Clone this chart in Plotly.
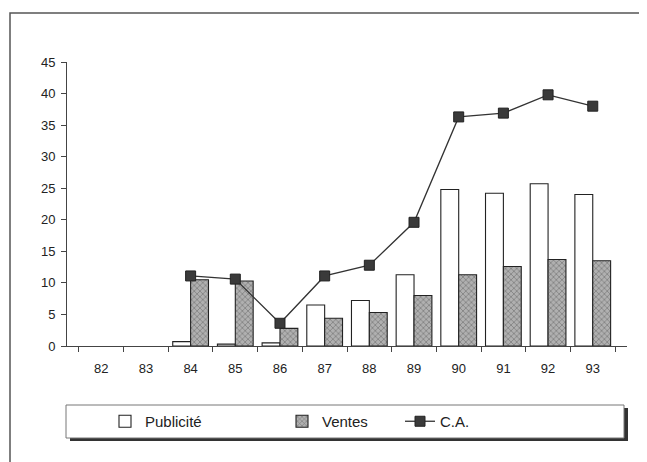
import plotly.graph_objects as go

annees = ['82', '83', '84', '85', '86', '87', '88', '89', '90', '91', '92', '93']
publicite = [None, None, 0.7, 0.3, 0.5, 6.5, 7.2, 11.3, 24.8, 24.2, 25.7, 24.0]
ventes = [None, None, 10.5, 10.3, 2.8, 4.4, 5.3, 8.0, 11.3, 12.6, 13.7, 13.5]
ca = [None, None, 11.1, 10.6, 3.6, 11.1, 12.8, 19.6, 36.3, 36.9, 39.8, 38.0]

# the page puts the figure 8px in from the corner
OFF = 8
W, H = 647 - OFF, 462 - OFF
# plot area in screen pixels: left 67, right 627, top 62, bottom 346
L, R, T, B = 67, 627, 62, 346
def px(x):
    return (x - L) / (R - L)
def py(y):
    return (B - y) / (B - T)

fig = go.Figure()
fig.add_trace(go.Bar(x=annees, y=publicite, name='Publicité', legend='legend',
                     marker=dict(color='white', line=dict(color='#222', width=1.1))))
fig.add_trace(go.Bar(x=annees, y=ventes, name='Ventes', legend='legend2',
                     marker=dict(color='#a8a8a8', line=dict(color='#222', width=1.1),
                                 pattern=dict(shape='x', fgcolor='#4a4a4a', bgcolor='#b0b0b0',
                                              size=4, solidity=0.35))))
fig.add_trace(go.Scatter(x=annees, y=ca, name='C.A.', mode='lines+markers', legend='legend3',
                         line=dict(color='#333', width=1.3),
                         marker=dict(symbol='square', size=10, color='#3a3a3a',
                                     line=dict(color='#222', width=1))))

shapes = [
    # outer frame
    dict(type='rect', xref='paper', yref='paper', x0=px(10), x1=px(642), y0=py(475), y1=py(13),
         line=dict(color='#555', width=1.5), fillcolor='rgba(0,0,0,0)', layer='below'),
    # legend shadow
    dict(type='rect', xref='paper', yref='paper', x0=px(70), x1=px(628), y0=py(441), y1=py(408),
         line=dict(width=0), fillcolor='#333', layer='below'),
    # legend box
    dict(type='rect', xref='paper', yref='paper', x0=px(66), x1=px(624), y0=py(438), y1=py(405),
         line=dict(color='#777', width=1), fillcolor='white', layer='below'),
]

leg = dict(orientation='h', yanchor='middle', y=py(421.5), xanchor='left',
           bgcolor='rgba(0,0,0,0)', font=dict(size=15), borderwidth=0)

fig.update_layout(
    width=W, height=H,
    margin=dict(l=L - OFF, r=W + OFF - R, t=T - OFF, b=H + OFF - B),
    paper_bgcolor='white', plot_bgcolor='white',
    font=dict(family='Liberation Sans, Arial, sans-serif', size=13, color='#222'),
    barmode='group', bargap=0.2, bargroupgap=0,
    shapes=shapes,
    showlegend=True,
    legend=dict(leg, x=px(105)),
    legend2=dict(leg, x=px(282)),
    legend3=dict(leg, x=px(400)),
)
fig.update_xaxes(showline=True, linecolor='#444', linewidth=1, ticks='outside',
                 tickson='boundaries', ticklen=5, tickcolor='#444', showgrid=False,
                 tickfont=dict(size=13), ticklabelstandoff=10)
fig.update_yaxes(range=[0, 45], dtick=5, showline=True, linecolor='#444', linewidth=1,
                 ticks='outside', ticklen=5, tickcolor='#444', showgrid=False,
                 zeroline=False, tickfont=dict(size=13), ticklabelstandoff=3)

fig.write_html("out.html")
